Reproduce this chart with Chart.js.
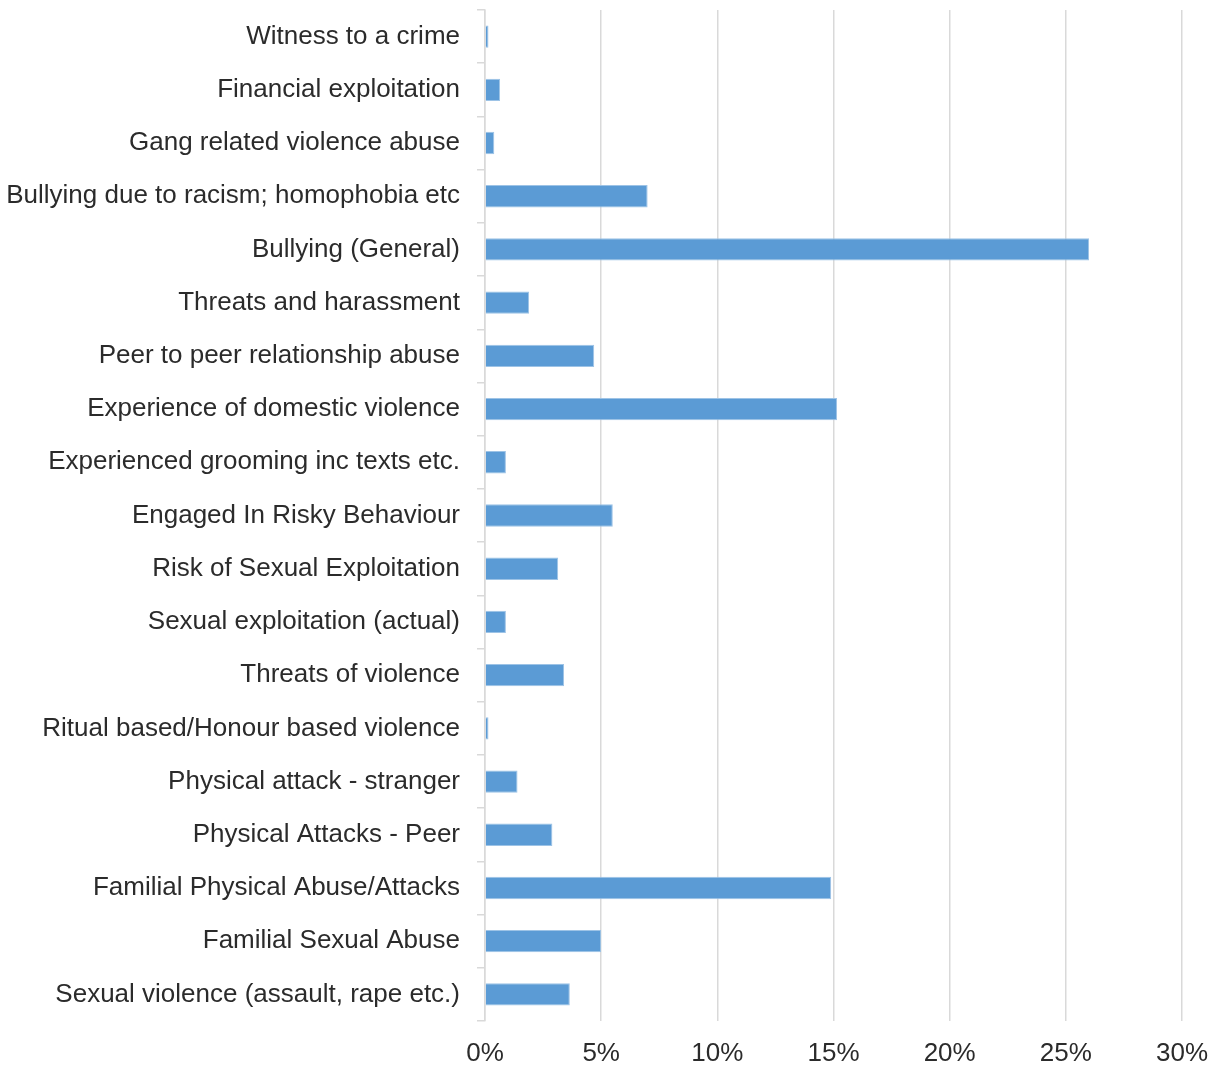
<!DOCTYPE html>
<html>
<head>
<meta charset="utf-8">
<title>Abuse categories</title>
<script src="https://cdn.jsdelivr.net/npm/chart.js@4/dist/chart.umd.min.js"></script>
<style>
  html, body { margin: 0; padding: 0; background: #fff; }
  #chartBox { width: 1210px; height: 1065px; }
</style>
</head>
<body>
<div id="chartBox"><canvas id="abuseChart" width="1210" height="1065"></canvas></div>
<script>
// ========================================================
// Data (in %)
// ========================================================
const categories = [
  "Witness to a crime",
  "Financial exploitation",
  "Gang related violence abuse",
  "Bullying due to racism; homophobia etc",
  "Bullying (General)",
  "Threats and harassment",
  "Peer to peer relationship abuse",
  "Experience of domestic violence",
  "Experienced grooming inc texts etc.",
  "Engaged In Risky Behaviour",
  "Risk of Sexual Exploitation",
  "Sexual exploitation (actual)",
  "Threats of violence",
  "Ritual based/Honour based violence",
  "Physical attack - stranger",
  "Physical Attacks - Peer",
  "Familial Physical Abuse/Attacks",
  "Familial Sexual Abuse",
  "Sexual violence (assault, rape etc.)",
];

const shares = [
  0.15, 0.65, 0.4, 7.0, 26.0, 1.9, 4.7, 15.15, 0.9, 5.5,
  3.15, 0.9, 3.4, 0.15, 1.4, 2.9, 14.9, 5.0, 3.65,
];

const xTicks = [0, 5, 10, 15, 20, 25, 30];

// ========================================================
// Chart
// ========================================================
const FONT = "'Liberation Sans', Arial, sans-serif";
const TEXT = "#2b2b2b";
const GRID = "#d9d9d9";

const ctx = document.getElementById("abuseChart").getContext("2d");

new Chart(ctx, {
  type: "bar",
  data: {
    labels: categories,
    datasets: [
      {
        data: shares,
        backgroundColor: "#5b9bd5",
        borderColor: "#9dc3e6",
        borderWidth: 1,
        barPercentage: 0.42,
        categoryPercentage: 1,
      },
    ],
  },
  options: {
    indexAxis: "y",
    responsive: false,
    animation: false,
    layout: { padding: { top: 10, right: 28, bottom: 0, left: 0 } },
    plugins: { legend: { display: false }, tooltip: { enabled: false } },
    scales: {
      x: {
        min: xTicks[0],
        max: xTicks[xTicks.length - 1],
        afterBuildTicks: (scale) => {
          scale.ticks = xTicks.map((v) => ({ value: v }));
        },
        afterFit: (scale) => {
          scale.height = 44;
          scale.paddingLeft = 0;
          scale.paddingRight = 0;
        },
        grid: { color: GRID, lineWidth: 1.5, drawTicks: false },
        border: { display: false },
        ticks: {
          padding: 17,
          color: TEXT,
          font: { family: FONT, size: 26 },
          callback: (value) => value + "%",
        },
      },
      y: {
        afterFit: (scale) => {
          scale.width = 485;
          scale.paddingTop = 0;
          scale.paddingBottom = 0;
        },
        grid: {
          offset: true,
          drawOnChartArea: false,
          drawTicks: true,
          tickLength: 8,
          color: GRID,
          lineWidth: 1.5,
        },
        border: { display: true, color: GRID, width: 1.5 },
        ticks: {
          padding: 17,
          color: TEXT,
          autoSkip: false,
          font: { family: FONT, size: 26 },
        },
      },
    },
  },
});
</script>
</body>
</html>
